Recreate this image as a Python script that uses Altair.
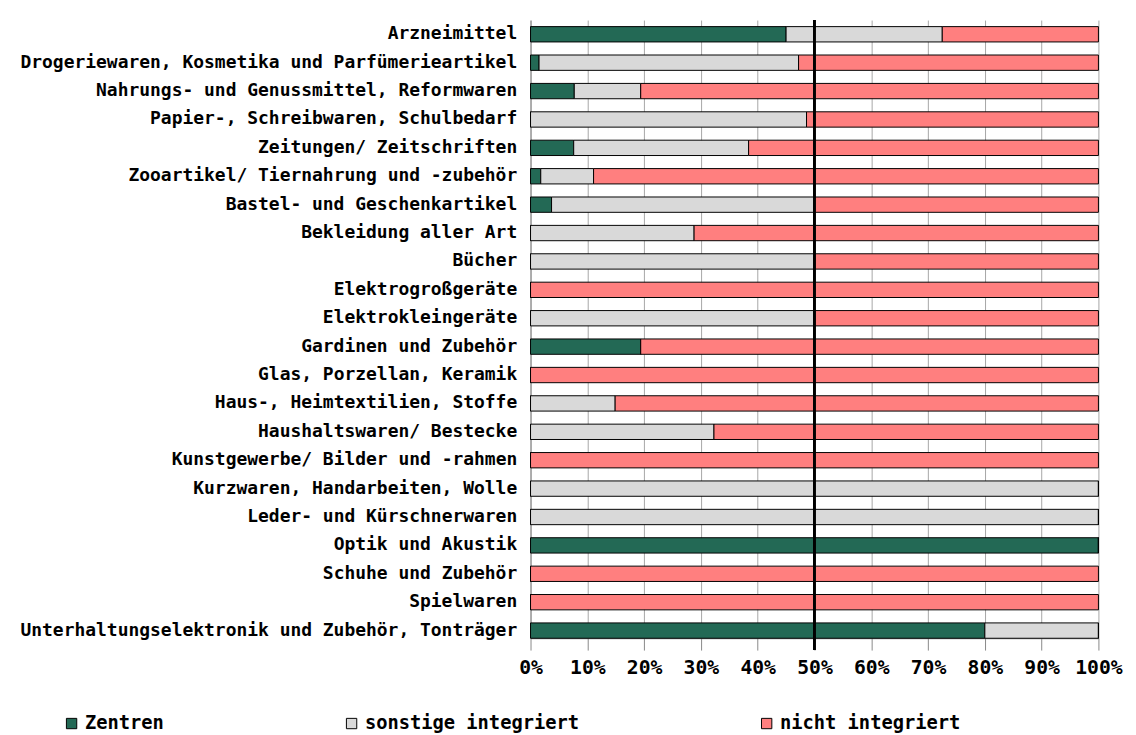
import altair as alt
import pandas as pd

categories = [
    "Arzneimittel",
    "Drogeriewaren, Kosmetika und Parfümerieartikel",
    "Nahrungs- und Genussmittel, Reformwaren",
    "Papier-, Schreibwaren, Schulbedarf",
    "Zeitungen/ Zeitschriften",
    "Zooartikel/ Tiernahrung und -zubehör",
    "Bastel- und Geschenkartikel ",
    "Bekleidung aller Art",
    "Bücher",
    "Elektrogroßgeräte",
    "Elektrokleingeräte",
    "Gardinen und Zubehör",
    "Glas, Porzellan, Keramik",
    "Haus-, Heimtextilien, Stoffe",
    "Haushaltswaren/ Bestecke",
    "Kunstgewerbe/ Bilder und -rahmen",
    "Kurzwaren, Handarbeiten, Wolle",
    "Leder- und Kürschnerwaren",
    "Optik und Akustik",
    "Schuhe und Zubehör",
    "Spielwaren ",
    "Unterhaltungselektronik und Zubehör, Tonträger",
]

zentren = [45.0, 1.5, 7.7, 0.0, 7.6, 1.8, 3.7, 0.0, 0.0, 0.0, 0.0, 19.4,
           0.0, 0.0, 0.0, 0.0, 0.0, 0.0, 100.0, 0.0, 0.0, 80.0]
sonstige = [27.5, 45.7, 11.7, 48.6, 30.8, 9.3, 46.3, 28.8, 50.0, 0.0, 50.0, 0.0,
            0.0, 14.9, 32.3, 0.0, 100.0, 100.0, 0.0, 0.0, 0.0, 20.0]
nicht = [27.5, 52.8, 80.6, 51.4, 61.6, 88.9, 50.0, 71.2, 50.0, 100.0, 50.0, 80.6,
         100.0, 85.1, 67.7, 100.0, 0.0, 0.0, 0.0, 100.0, 100.0, 0.0]

series = ["Zentren", "sonstige integriert", "nicht integriert"]
colors = ["#236955", "#d9d9d9", "#ff7f7f"]
ticks = [0, 10, 20, 30, 40, 50, 60, 70, 80, 90, 100]
marker = [50]

rows = []
for i, c in enumerate(categories):
    for k, (s, vals) in enumerate(zip(series, [zentren, sonstige, nicht])):
        rows.append({"Kategorie": c, "Typ": s, "Wert": vals[i], "ord": k})
df = pd.DataFrame(rows)

FONT = "DejaVu Sans Mono"
H = 627

bars = alt.Chart(df).mark_bar(stroke="black", strokeWidth=1).encode(
    y=alt.Y("Kategorie:N", sort=categories, title=None,
            scale=alt.Scale(paddingInner=0.46, paddingOuter=0.115, align=1),
            axis=alt.Axis(labelFont=FONT, labelFontWeight="bold", labelFontSize=18.2,
                          labelColor="black", labelPadding=14, labelLimit=700,
                          ticks=False, domainColor="#888888", grid=False)),
    x=alt.X("Wert:Q", stack="zero", title=None,
            scale=alt.Scale(domain=[0, 100], nice=False),
            axis=alt.Axis(values=ticks, labelExpr="datum.value + '%'",
                          labelOverlap=False, labelFlush=False,
                          labelFont=FONT, labelFontWeight="bold", labelFontSize=20,
                          labelColor="black", labelPadding=8, tickSize=12,
                          tickColor="#888888", domainColor="#888888",
                          grid=True, gridColor="#a6a6a6", gridWidth=1)),
    color=alt.Color("Typ:N", sort=series,
                    scale=alt.Scale(domain=series, range=colors),
                    legend=alt.Legend(title=None, orient="none", direction="horizontal",
                                      legendX=-475, legendY=704,
                                      symbolType="square", symbolSize=110,
                                      symbolStrokeColor="black", symbolStrokeWidth=1,
                                      symbolOpacity=1,
                                      labelFont=FONT, labelFontWeight="bold",
                                      labelFontSize=19, labelColor="black",
                                      labelLimit=400,
                                      labelOffset=4, columnPadding=180,
                                      gridAlign="none")),
    order=alt.Order("ord:Q"),
)

rule = alt.Chart(pd.DataFrame({"x": marker})).mark_rule(
    color="black", strokeWidth=3
).encode(x=alt.X("x:Q"), y=alt.value(0), y2=alt.value(H + 12))

chart = alt.layer(bars, rule).properties(
    width=576, height=H,
    padding={"left": 12, "top": 5, "right": 5, "bottom": 5},
).configure_view(stroke=None)

chart.save("out.html", embed_options={"renderer": "svg", "actions": False})
